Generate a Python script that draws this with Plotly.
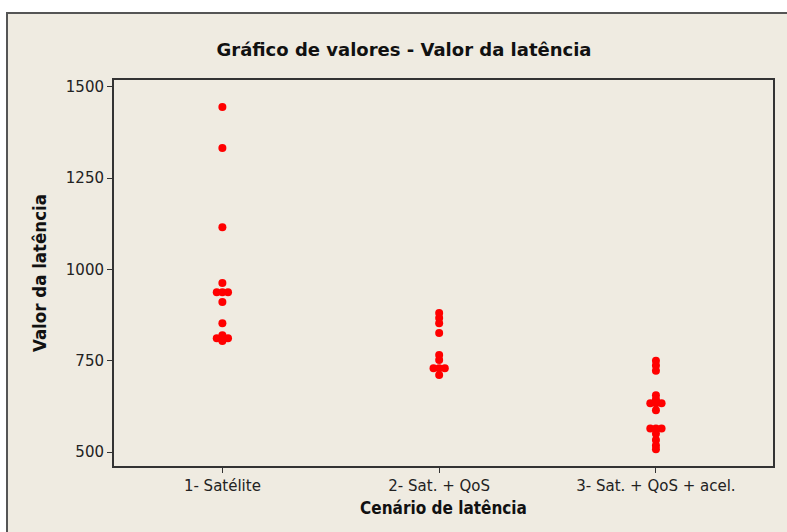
import plotly.graph_objects as go
from collections import Counter

# Latency values per scenario
categories = ["1- Satélite", "2- Sat. + QoS", "3- Sat. + QoS + acel."]
sat = [1445, 1333, 1116, 963, 938, 938, 938, 911, 853, 820, 812, 812, 812, 804]
sat_qos = [881, 867, 853, 826, 766, 752, 730, 730, 730, 711]
sat_qos_acel = [750, 737, 723, 656, 644, 634, 634, 634, 615, 565, 565, 565, 550, 533, 518, 508]
y_ticks = [500, 750, 1000, 1250, 1500]

series = [sat, sat_qos, sat_qos_acel]

# Spread tied values side by side around the category centre
DODGE = 0.026
xs, ys = [], []
for i, vals in enumerate(series, start=1):
    counts = Counter(vals)
    seen = Counter()
    for v in vals:
        n = counts[v]
        k = seen[v]
        seen[v] += 1
        xs.append(i + (k - (n - 1) / 2) * DODGE)
        ys.append(v)

fig = go.Figure(go.Scatter(
    x=xs, y=ys, mode="markers",
    marker=dict(color="#FF0000", size=8, symbol="circle", line=dict(width=0)),
    showlegend=False,
))

W, H = 787, 532
L, R, T, B = 114, 14, 80, 66
pw, ph = W - L - R, H - T - B

def px_x(p):
    return (p - L) / pw

def px_y(p):
    return (H - B - p) / ph

font_wide = "DejaVu Sans, Verdana, sans-serif"
font_cond = "DejaVu Sans Condensed, Liberation Sans Narrow, Arial Narrow, sans-serif"

fig.update_layout(
    width=W, height=H,
    margin=dict(l=L, r=R, t=T, b=B),
    paper_bgcolor="white",
    plot_bgcolor="white",
    font=dict(family=font_wide, size=14, color="#111111"),
    title=dict(text="<b>Gráfico de valores - Valor da latência</b>",
               x=px_x(404), xanchor="center", xref="paper",
               y=1 - 50 / H, yanchor="middle",
               font=dict(size=18, family=font_wide)),
    shapes=[dict(type="rect", xref="paper", yref="paper",
                 x0=px_x(7), x1=px_x(800), y0=px_y(545), y1=px_y(13),
                 fillcolor="#EFEBE1", line=dict(color="#555555", width=2),
                 layer="below")],
    xaxis=dict(
        range=[0.5, 3.54],
        tickmode="array", tickvals=[1, 2, 3], ticktext=categories,
        ticks="outside", ticklen=5, tickcolor="#333333",
        showgrid=False, zeroline=False,
        showline=True, linecolor="#333333", linewidth=2, mirror=True,
        tickfont=dict(size=15, family=font_wide, color="#222222"),
        title=dict(text="<b>Cenário de latência</b>", standoff=8,
                   font=dict(size=17, family=font_cond)),
    ),
    yaxis=dict(
        range=[462, 1519],
        tickmode="array", tickvals=y_ticks,
        ticks="outside", ticklen=5, tickcolor="#333333",
        showgrid=False, zeroline=False,
        showline=True, linecolor="#333333", linewidth=2, mirror=True,
        tickfont=dict(size=15, family=font_wide, color="#222222"),
        title=dict(text="<b>Valor da latência</b>", standoff=14,
                   font=dict(size=18.5, family=font_cond)),
    ),
)

fig.write_html("out.html")
